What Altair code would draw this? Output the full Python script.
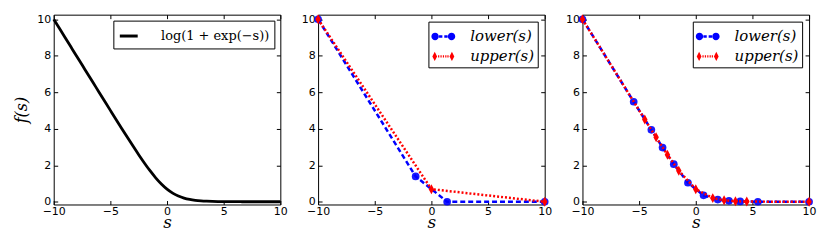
import altair as alt
import pandas as pd

# ---------------- data ----------------
curve_s = [-10, -9.5, -9, -8.5, -8, -7.5, -7, -6.5, -6, -5.5, -5, -4.5, -4, -3.5, -3,
           -2.5, -2, -1.5, -1, -0.5, 0, 0.5, 1, 1.5, 2, 2.5, 3, 3.5, 4, 4.5, 5,
           5.5, 6, 6.5, 7, 7.5, 8, 8.5, 9, 9.5, 10]
curve_f = [10.0, 9.5, 9.0, 8.5, 8.0, 7.501, 7.001, 6.502, 6.002, 5.504, 5.007, 4.511, 4.018,
           3.530, 3.049, 2.579, 2.127, 1.701, 1.313, 0.974, 0.693, 0.474, 0.313, 0.201,
           0.127, 0.079, 0.049, 0.030, 0.018, 0.011, 0.007, 0.004, 0.0025, 0.0015,
           0.0009, 0.0006, 0.0003, 0.0002, 0.0001, 0.0001, 0.0]

p2_lower_s = [-10, -1.39, 1.39, 10]
p2_lower_f = [10.0, 1.39, 0.0, 0.0]
p2_upper_s = [-10, 0, 10]
p2_upper_f = [10.0, 0.69, 0.0]

p3_lower_s = [-10, -5.48, -3.92, -2.93, -1.94, -0.69, 0.69, 1.94, 2.93, 3.92, 5.48, 10]
p3_lower_f = [10.0, 5.48, 3.94, 2.97, 2.06, 1.04, 0.35, 0.12, 0.05, 0.02, 0.0, 0.0]
p3_upper_s = [-10, -4.5, -3.5, -2.5, -1.5, 0, 1.5, 2.5, 3.5, 4.5, 10]
p3_upper_f = [10.0, 4.51, 3.53, 2.58, 1.70, 0.69, 0.20, 0.08, 0.03, 0.01, 0.0]

x_ticks = [-10, -5, 0, 5, 10]
y_ticks = [0, 2, 4, 6, 8, 10]
series_names = ["lower(s)", "upper(s)"]
curve_label = "log(1 + exp(\u2212s))"

# ---------------- styling ----------------
W, H = 228, 191
BLUE, RED = "#0000ff", "#ff0000"
X_DOMAIN = [-10, 10]
Y_DOMAIN = [-0.15, 10.25]
X_SCALE = alt.Scale(domain=X_DOMAIN, nice=False, zero=False)
Y_SCALE = alt.Scale(domain=Y_DOMAIN, nice=False, zero=False)

THIN_DIAMOND = "M0,-1L0.55,0L0,1L-0.55,0Z"
LEG_LOWER = ("M-1,0A0.31,0.31 0 1,0 -0.38,0A0.31,0.31 0 1,0 -1,0Z"
             "M0.38,0A0.31,0.31 0 1,0 1,0A0.31,0.31 0 1,0 0.38,0Z"
             "M-0.36,-0.1H-0.08V0.1H-0.36Z"
             "M0.08,-0.1H0.36V0.1H0.08Z")
LEG_UPPER = ("M-0.72,-0.38L-0.52,0L-0.72,0.38L-0.92,0Z"
             "M0.72,-0.38L0.92,0L0.72,0.38L0.52,0Z"
             "M-0.44,-0.09H-0.34V0.09H-0.44Z"
             "M-0.24,-0.09H-0.14V0.09H-0.24Z"
             "M-0.04,-0.09H0.06V0.09H-0.04Z"
             "M0.16,-0.09H0.26V0.09H0.16Z"
             "M0.34,-0.09H0.44V0.09H0.34Z")

TICK_KW = dict(offset=-4, tickSize=4, domain=False, grid=False, tickColor="black",
               labelFlush=False, labelOverlap=False, labelFont="DejaVu Sans",
               labelFontSize=11, labelColor="black")


def x_enc():
    return alt.X("s:Q", scale=X_SCALE,
                 axis=alt.Axis(values=x_ticks, title="s", labelPadding=1,
                               titleFont="DejaVu Serif", titleFontStyle="italic",
                               titleFontWeight="normal", titleFontSize=17,
                               titleColor="black", titleBaseline="alphabetic",
                               titlePadding=11, **TICK_KW))


def y_enc(title=None):
    kw = dict(values=y_ticks, labelPadding=3, **TICK_KW)
    if title:
        kw.update(title=title, titleFont="DejaVu Serif", titleFontStyle="italic",
                  titleFontWeight="normal", titleFontSize=16, titleColor="black",
                  titlePadding=7)
    else:
        kw.update(title=None)
    return alt.Y("f:Q", scale=Y_SCALE, axis=alt.Axis(**kw))


def mirror_ticks(df):
    # inward tick marks on the top and right edges (no labels), like the reference frame
    return alt.Chart(df).transform_filter("datum.s > 1000").mark_point().encode(
        x=alt.X("s:Q", scale=X_SCALE,
                axis=alt.Axis(orient="top", values=x_ticks, labels=False, title=None,
                              **TICK_KW)),
        y=alt.Y("f:Q", scale=Y_SCALE,
                axis=alt.Axis(orient="right", values=y_ticks, labels=False, title=None,
                              **TICK_KW)),
    )


# ---------------- panel 1 ----------------
df1 = pd.DataFrame({"s": curve_s, "f": curve_f, "lab": [curve_label] * len(curve_s)})
curve = alt.Chart(df1).mark_line(strokeWidth=2.8, interpolate="monotone").encode(
    x=x_enc(), y=y_enc("f(s)"),
    color=alt.Color("lab:N", scale=alt.Scale(domain=[curve_label], range=["black"]),
                    legend=alt.Legend(title=None, orient="top-right", offset=6,
                                      strokeColor="black", fillColor="white",
                                      padding=5, symbolType="stroke",
                                      symbolStrokeWidth=3, symbolSize=324,
                                      labelFont="DejaVu Serif", labelFontSize=13,
                                      labelColor="black", labelOffset=22,
                                      labelLimit=300, cornerRadius=0))
)
p1 = alt.layer(curve, mirror_ticks(df1)).resolve_axis(
    x="independent", y="independent").properties(width=W, height=H)


def bound_panel(ls, lf, us, uf):
    dl = pd.DataFrame({"s": ls, "f": lf, "series": [series_names[0]] * len(ls)})
    du = pd.DataFrame({"s": us, "f": uf, "series": [series_names[1]] * len(us)})
    base_l = alt.Chart(dl).encode(x=x_enc(), y=y_enc())
    base_u = alt.Chart(du).encode(x=x_enc(), y=y_enc())
    low_line = base_l.mark_line(color=BLUE, strokeWidth=2.5, strokeDash=[5, 3])
    low_pts = base_l.mark_point(shape="circle", filled=True, size=60, color=BLUE,
                                opacity=0.9)
    up_line = base_u.mark_line(color=RED, strokeWidth=2.5, strokeDash=[2, 2])
    up_pts = base_u.mark_point(shape=THIN_DIAMOND, filled=True, size=100, color=RED,
                               opacity=1)
    dall = pd.concat([dl, du])
    leg = alt.Chart(dall).transform_filter("datum.s > 1000").mark_point(
        filled=True, opacity=1).encode(
        x=x_enc(), y=y_enc(),
        color=alt.Color("series:N", scale=alt.Scale(domain=series_names, range=[BLUE, RED]),
                        legend=alt.Legend(title=None, orient="top-right", offset=7,
                                          strokeColor="black", fillColor="white",
                                          padding=3, symbolSize=576, symbolOpacity=1,
                                          symbolStrokeWidth=0, rowPadding=0,
                                          labelFont="DejaVu Serif", labelFontStyle="italic",
                                          labelFontSize=15, labelColor="black",
                                          labelOffset=15, labelAlign="left",
                                          cornerRadius=0)),
        shape=alt.Shape("series:N", scale=alt.Scale(domain=series_names,
                                                    range=[LEG_LOWER, LEG_UPPER]))
    )
    main = alt.layer(leg, low_line, low_pts, up_line, up_pts)
    return alt.layer(main, mirror_ticks(dall)).resolve_axis(
        x="independent", y="independent").properties(width=W, height=H)


p2 = bound_panel(p2_lower_s, p2_lower_f, p2_upper_s, p2_upper_f)
p3 = bound_panel(p3_lower_s, p3_lower_f, p3_upper_s, p3_upper_f)

chart = alt.hconcat(p1, p2, p3, spacing=12).resolve_scale(
    color="independent", shape="independent"
).properties(
    padding={"left": 5, "top": 4, "right": 5, "bottom": 5}
).configure(background="white").configure_view(stroke="black", strokeWidth=1)

chart.save("out.html", embed_options={"renderer": "svg", "actions": False})
